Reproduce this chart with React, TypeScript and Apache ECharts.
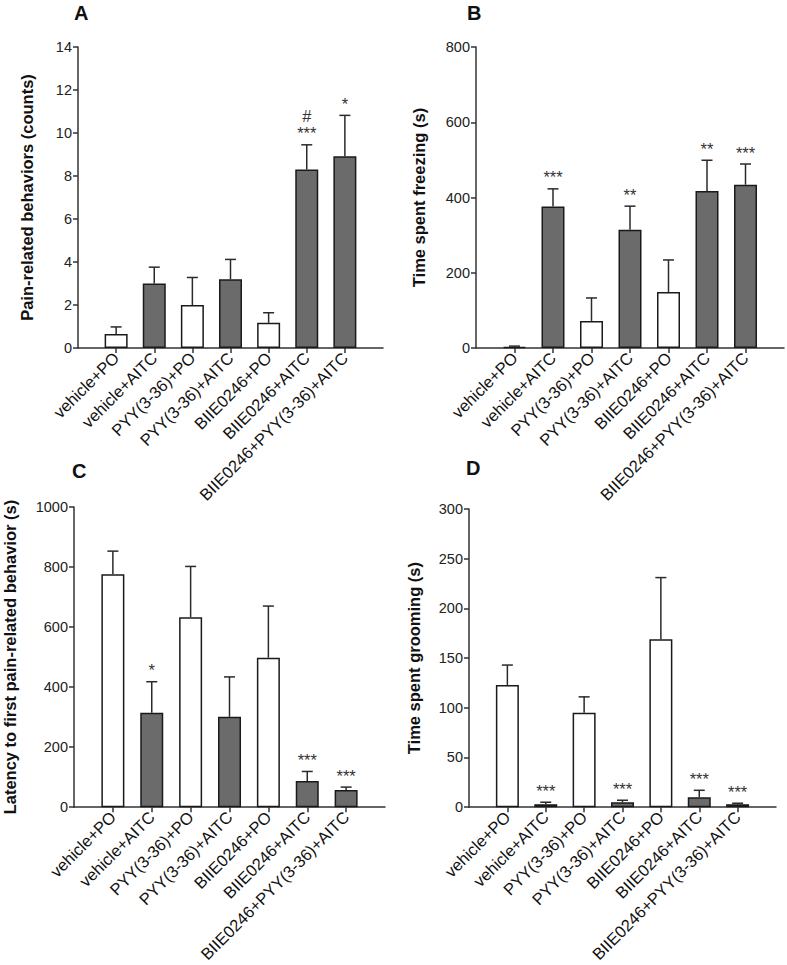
import React, { useEffect, useRef } from "react";
import * as echarts from "echarts";

const categories = [
  "vehicle+PO",
  "vehicle+AITC",
  "PYY(3-36)+PO",
  "PYY(3-36)+AITC",
  "BIIE0246+PO",
  "BIIE0246+AITC",
  "BIIE0246+PYY(3-36)+AITC",
];
const isAITC = [false, true, false, true, false, true, true];

const panelTitles = ["A", "B", "C", "D"];
const yNames = [
  "Pain-related behaviors (counts)",
  "Time spent freezing (s)",
  "Latency to first pain-related behavior (s)",
  "Time spent grooming (s)",
];
const yMax = [14, 800, 1000, 300];
const yStep = [2, 200, 200, 50];

const meanA = [0.65, 3.0, 2.0, 3.2, 1.17, 8.3, 8.92];
const errTopA = [0.98, 3.76, 3.28, 4.12, 1.64, 9.45, 10.82];
const annoA = ["", "", "", "", "", "#\n***", "*"];

const meanB = [3, 376, 72, 314, 149, 417, 434];
const errTopB = [5, 423, 133, 377, 234, 499, 489];
const annoB = ["", "***", "", "**", "", "**", "***"];

const meanC = [776, 315, 633, 301, 498, 87, 57];
const errTopC = [853, 418, 802, 434, 670, 119, 67];
const annoC = ["", "*", "", "", "", "***", "***"];

const meanD = [123, 3, 95, 5, 169, 10, 3];
const errTopD = [143, 5, 111, 7, 231, 17, 4];
const annoD = ["", "***", "", "***", "", "***", "***"];

const means = [meanA, meanB, meanC, meanD];
const errTops = [errTopA, errTopB, errTopC, errTopD];
const annos = [annoA, annoB, annoC, annoD];

const FONT = "Arial, 'Liberation Sans', Helvetica, sans-serif";

export default function App() {
  const ref = useRef<HTMLDivElement>(null);
  useEffect(() => {
    if (!ref.current) return;
    const chart = echarts.init(ref.current, undefined, { renderer: "svg" });

    const grids = [
      { left: 78, top: 47, width: 305, height: 301 },
      { left: 476, top: 47, width: 308, height: 301 },
      { left: 74, top: 507, width: 311, height: 302 },
      { left: 469, top: 509, width: 307, height: 302 },
    ];
    const nameGaps = [43, 49, 56, 47];
    const titlePos = [
      { left: 74, top: 3 },
      { left: 467, top: 3 },
      { left: 72, top: 461 },
      { left: 466, top: 458 },
    ];

    const axisCats = ["", ...categories, ""];

    const xAxis = grids.map((_, i) => ({
      type: "category",
      gridIndex: i,
      data: axisCats,
      boundaryGap: false,
      axisLine: { lineStyle: { color: "#333", width: 1.5 } },
      axisTick: {
        length: 5,
        lineStyle: { color: "#333", width: 1.5 },
        interval: (idx: number) => idx > 0 && idx < axisCats.length - 1,
      },
      axisLabel: {
        interval: 0,
        rotate: 45,
        fontSize: 16.5,
        color: "#111",
        fontFamily: FONT,
        margin: 7,
      },
      splitLine: { show: false },
    }));

    const yAxis = grids.map((_, i) => ({
      type: "value",
      gridIndex: i,
      min: 0,
      max: yMax[i],
      interval: yStep[i],
      name: yNames[i],
      nameLocation: "middle",
      nameGap: nameGaps[i],
      nameTextStyle: {
        fontSize: 16.5,
        fontWeight: "bold",
        color: "#111",
        fontFamily: FONT,
      },
      axisLine: { show: true, lineStyle: { color: "#333", width: 1.5 } },
      axisTick: { show: true, length: 5, lineStyle: { color: "#333", width: 1.5 } },
      axisLabel: {
        fontSize: 14.5,
        color: "#222",
        fontFamily: FONT,
        margin: 6,
        formatter: (v: number) => String(v),
      },
      splitLine: { show: false },
    }));

    const series: any[] = [];
    grids.forEach((_, i) => {
      const m = means[i];
      const e = errTops[i];
      const a = annos[i];
      series.push({
        type: "bar",
        xAxisIndex: i,
        yAxisIndex: i,
        barWidth: 23,
        data: m.map((v, k) => ({
          value: [k + 1, v],
          itemStyle: {
            color: isAITC[k] ? "#6b6b6b" : "#ffffff",
            borderColor: "#1a1a1a",
            borderWidth: 1.5,
          },
        })),
        z: 2,
      });
      series.push({
        type: "custom",
        xAxisIndex: i,
        yAxisIndex: i,
        data: m.map((v, k) => [k + 1, v, e[k]]),
        z: 3,
        renderItem: (params: any, api: any) => {
          const k = params.dataIndex;
          const p0 = api.coord([api.value(0), api.value(1)]);
          const p1 = api.coord([api.value(0), api.value(2)]);
          const children: any[] = [
            {
              type: "line",
              shape: { x1: p0[0], y1: p0[1], x2: p1[0], y2: p1[1] },
              style: { stroke: "#2a2a2a", lineWidth: 1.5 },
            },
            {
              type: "line",
              shape: { x1: p1[0] - 5.5, y1: p1[1], x2: p1[0] + 5.5, y2: p1[1] },
              style: { stroke: "#2a2a2a", lineWidth: 1.5 },
            },
          ];
          if (a[k]) {
            children.push({
              type: "text",
              x: p1[0],
              y: p1[1] - 3,
              style: {
                text: a[k],
                align: "center",
                verticalAlign: "bottom",
                fontSize: 16.5,
                lineHeight: 17,
                fill: "#333",
                fontFamily: FONT,
              },
            });
          }
          return { type: "group", children };
        },
      });
    });

    chart.setOption({
      animation: false,
      backgroundColor: "#ffffff",
      title: panelTitles.map((t, i) => ({
        text: t,
        left: titlePos[i].left,
        top: titlePos[i].top,
        padding: 0,
        textStyle: { fontSize: 20, fontWeight: "bold", color: "#111", fontFamily: FONT },
      })),
      grid: grids,
      xAxis,
      yAxis,
      series,
    });

    return () => chart.dispose();
  }, []);

  return (
    <div
      ref={ref}
      style={{ position: "absolute", left: 0, top: 0, width: 787, height: 965 }}
    />
  );
}
